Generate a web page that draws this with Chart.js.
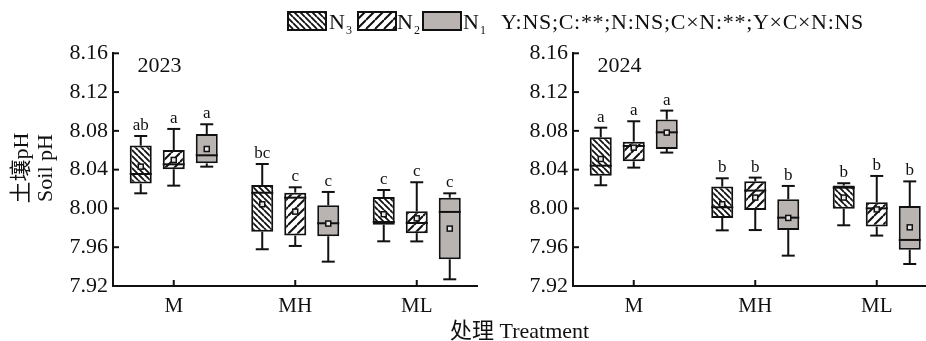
<!DOCTYPE html>
<html>
<head>
<meta charset="utf-8">
<script src="https://cdn.jsdelivr.net/npm/chart.js@4.4.1/dist/chart.umd.min.js"></script>
<style>
  html, body { margin: 0; padding: 0; background: #fff; }
  #wrap { position: relative; width: 926px; height: 341px; overflow: hidden;
          font-family: "Liberation Serif", "Times New Roman", "Noto Sans CJK SC", serif; color: #111; }
  .cv { position: absolute; top: 0; }
  .txt { position: absolute; white-space: nowrap; font-size: 22px; line-height: 22px; }
  .txt sub { font-size: 12px; vertical-align: baseline; position: relative; top: 5px; margin-left: 1px; }
  .sw { position: absolute; top: 11px; }
</style>
</head>
<body>
<div id="wrap">
  <canvas id="c2023" class="cv" width="480" height="341" style="left:0px"></canvas>
  <canvas id="c2024" class="cv" width="480" height="341" style="left:460px"></canvas>
  <div id="legend"></div>
  <div class="txt" id="stats" style="left:501px; top:10.6px; letter-spacing:0.7px;"></div>
  <div class="txt" id="xtitle" style="left:450px; top:319.6px;"></div>
</div>
<script>
// ---- categories, series, ticks ----
const categories = ['M', 'MH', 'ML'];
const seriesNames = ['N', 'N', 'N'];
const seriesSubs = ['3', '2', '1'];
const yearLabels = ['2023', '2024'];
const yTickValues = [7.92, 7.96, 8.00, 8.04, 8.08, 8.12, 8.16];
const yTickLabels = ['7.92', '7.96', '8.00', '8.04', '8.08', '8.12', '8.16'];
const yTitleLines = ['土壤pH', 'Soil pH'];
const xTitle = '处理 Treatment';
const statsText = 'Y:NS;C:**;N:NS;C×N:**;Y×C×N:NS';

// ---- five-number summaries per category: [lower whisker, Q1, median, Q3, upper whisker] ----
const box2023N3 = [[8.0156, 8.0256, 8.0355, 8.0648, 8.0747],
                   [7.9579, 7.9760, 8.0162, 8.0242, 8.0458],
                   [7.9661, 7.9833, 7.9860, 8.0118, 8.0190]];
const box2023N2 = [[8.0235, 8.0404, 8.0455, 8.0603, 8.0820],
                   [7.9613, 7.9720, 8.0111, 8.0163, 8.0218],
                   [7.9660, 7.9745, 7.9850, 7.9970, 8.0270]];
const box2023N1 = [[8.0431, 8.0465, 8.0548, 8.0768, 8.0868],
                   [7.9451, 7.9713, 7.9847, 8.0032, 8.0170],
                   [7.9269, 7.9475, 7.9964, 8.0111, 8.0156]];
const mean2023N3 = [8.0431, 8.0043, 7.9940];
const mean2023N2 = [8.0500, 7.9967, 7.9898];
const mean2023N1 = [8.0613, 7.9844, 7.9792];
const letters2023N3 = ['ab', 'bc', 'c'];
const letters2023N2 = ['a', 'c', 'c'];
const letters2023N1 = ['a', 'c', 'c'];

const box2024N3 = [[8.0239, 8.0338, 8.0441, 8.0734, 8.0833],
                   [7.9774, 7.9902, 8.0012, 8.0225, 8.0311],
                   [7.9826, 7.9998, 8.0214, 8.0236, 8.0260]];
const box2024N2 = [[8.0421, 8.0486, 8.0644, 8.0689, 8.0899],
                   [7.9777, 7.9984, 8.0184, 8.0280, 8.0318],
                   [7.9720, 7.9813, 8.0001, 8.0063, 8.0335]];
const box2024N1 = [[8.0576, 8.0613, 8.0785, 8.0916, 8.1009],
                   [7.9513, 7.9777, 7.9905, 8.0094, 8.0232],
                   [7.9427, 7.9575, 7.9675, 8.0025, 8.0279]];
const mean2024N3 = [8.0510, 8.0043, 8.0112];
const mean2024N2 = [8.0627, 8.0112, 7.9990];
const mean2024N1 = [8.0782, 7.9902, 7.9805];
const letters2024N3 = ['a', 'b', 'b'];
const letters2024N2 = ['a', 'b', 'b'];
const letters2024N1 = ['a', 'b', 'b'];

// ---- fills: two hatchings and a grey ----
const INK = '#111';
function hatch(step, dir, lw) {
  const c = document.createElement('canvas');
  c.width = step; c.height = step;
  const g = c.getContext('2d');
  g.fillStyle = '#fff'; g.fillRect(0, 0, step, step);
  g.strokeStyle = INK; g.lineWidth = lw;
  g.beginPath();
  for (let k = -1; k <= 2; k++) {
    if (dir === 'back') { g.moveTo(0, k * step); g.lineTo(step, k * step + step); }
    else { g.moveTo(0, k * step); g.lineTo(step, k * step - step); }
  }
  g.stroke();
  return c;
}
const tileN3 = hatch(6, 'back', 1.8);
const tileN2 = hatch(9, 'fwd', 2);
const greyN1 = '#b9b3b1';
function fillFor(ctx, i) {
  if (i === 0) return ctx.createPattern(tileN3, 'repeat');
  if (i === 1) return ctx.createPattern(tileN2, 'repeat');
  return greyN1;
}

Chart.defaults.font.family = '"Liberation Serif", "Times New Roman", "Noto Sans CJK SC", serif';
Chart.defaults.color = INK;

function seg(ctx, x1, y1, x2, y2) { ctx.beginPath(); ctx.moveTo(x1, y1); ctx.lineTo(x2, y2); ctx.stroke(); }

// whiskers, medians, means, letters, inward ticks and annotations
const boxExtras = {
  id: 'boxExtras',
  afterDatasetsDraw(chart) {
    const ctx = chart.ctx, ys = chart.scales.y;
    ctx.save();
    ctx.strokeStyle = INK; ctx.lineWidth = 2; ctx.lineCap = 'butt';
    chart.data.datasets.forEach((ds, di) => {
      chart.getDatasetMeta(di).data.forEach((bar, i) => {
        const [lo, q1, med, q3, hi] = ds.stats[i];
        const cx = bar.x, w = bar.width;
        const pLo = ys.getPixelForValue(lo), pQ1 = ys.getPixelForValue(q1);
        const pMed = ys.getPixelForValue(med), pQ3 = ys.getPixelForValue(q3);
        const pHi = ys.getPixelForValue(hi), pMean = ys.getPixelForValue(ds.means[i]);
        ctx.lineWidth = 2;
        seg(ctx, cx, pQ3, cx, pHi);
        seg(ctx, cx, pQ1, cx, pLo);
        seg(ctx, cx - 6.5, pHi, cx + 6.5, pHi);
        seg(ctx, cx - 6.5, pLo, cx + 6.5, pLo);
        seg(ctx, cx - w / 2, pMed, cx + w / 2, pMed);
        ctx.fillStyle = '#e6e6e6';
        ctx.fillRect(cx - 2.5, pMean - 2.5, 5, 5);
        ctx.lineWidth = 1.5;
        ctx.strokeRect(cx - 2.5, pMean - 2.5, 5, 5);
        ctx.fillStyle = INK;
        ctx.font = '17px "Liberation Serif", serif';
        ctx.textAlign = 'center'; ctx.textBaseline = 'alphabetic';
        ctx.fillText(ds.letters[i], cx, pHi - 6);
      });
    });
    ctx.restore();
  },
  afterDraw(chart, args, opts) {
    const ctx = chart.ctx, ys = chart.scales.y, xs = chart.scales.x, a = chart.chartArea;
    ctx.save();
    ctx.strokeStyle = INK; ctx.lineWidth = 2;
    ys.ticks.forEach(t => { const p = ys.getPixelForValue(t.value); seg(ctx, a.left, p, a.left + 6, p); });
    categories.forEach((c, i) => { const p = xs.getPixelForValue(i); seg(ctx, p, a.bottom, p, a.bottom - 6); });
    ctx.fillStyle = INK;
    ctx.font = '22px "Liberation Serif", serif';
    ctx.textAlign = 'left'; ctx.textBaseline = 'alphabetic';
    ctx.fillText(opts.year, a.left + 24.5, 72);
    if (opts.yTitle) {
      ctx.textAlign = 'center';
      ctx.font = '22px "Liberation Serif", "Noto Sans CJK SC", serif';
      [[28, yTitleLines[0]], [52, yTitleLines[1]]].forEach(([bx, s]) => {
        ctx.save(); ctx.translate(bx, 168); ctx.rotate(-Math.PI / 2);
        ctx.fillText(s, 0, 0); ctx.restore();
      });
    }
    ctx.restore();
  }
};

function makeChart(id, year, boxes, means, letters, yTitle) {
  const el = document.getElementById(id);
  const ctx = el.getContext('2d');
  return new Chart(el, {
    type: 'bar',
    data: {
      labels: categories,
      datasets: boxes.map((b, i) => ({
        label: seriesNames[i] + seriesSubs[i],
        data: b.map(r => [r[1], r[3]]),
        stats: b, means: means[i], letters: letters[i],
        backgroundColor: fillFor(ctx, i),
        borderColor: INK, borderWidth: 2, borderSkipped: false,
        categoryPercentage: 0.815, barPercentage: 0.667
      }))
    },
    options: {
      responsive: false, animation: false, devicePixelRatio: 1,
      layout: { padding: { top: 53.3, right: 2.5, bottom: 15, left: 0 } },
      plugins: { legend: { display: false }, tooltip: { enabled: false }, boxExtras: { year, yTitle } },
      scales: {
        x: {
          grid: { display: false, drawTicks: false },
          border: { display: true, color: INK, width: 2 },
          ticks: { font: { size: 21 }, color: INK, padding: 8 },
          afterFit: s => { s.height = 40; }
        },
        y: {
          min: 7.92, max: 8.16,
          grid: { display: false, drawTicks: false },
          border: { display: true, color: INK, width: 2 },
          afterBuildTicks: s => { s.ticks = yTickValues.map(v => ({ value: v })); },
          ticks: { font: { size: 22 }, color: INK, padding: 5, callback: (v, i) => yTickLabels[i] },
          afterFit: s => { s.width = 113; }
        }
      }
    },
    plugins: [boxExtras]
  });
}

makeChart('c2023', yearLabels[0], [box2023N3, box2023N2, box2023N1],
          [mean2023N3, mean2023N2, mean2023N1], [letters2023N3, letters2023N2, letters2023N1], true);
makeChart('c2024', yearLabels[1], [box2024N3, box2024N2, box2024N1],
          [mean2024N3, mean2024N2, mean2024N1], [letters2024N3, letters2024N2, letters2024N1], false);

// ---- legend with swatches, plus the shared texts ----
const legend = document.getElementById('legend');
const swLeft = [287, 357, 422];
const txLeft = [329, 397, 463];
seriesNames.forEach((n, i) => {
  const sw = document.createElement('canvas');
  sw.className = 'sw'; sw.width = 40; sw.height = 20; sw.style.left = swLeft[i] + 'px';
  const g = sw.getContext('2d');
  g.fillStyle = fillFor(g, i); g.fillRect(0, 0, 40, 20);
  g.strokeStyle = INK; g.lineWidth = 2; g.strokeRect(1, 1, 38, 18);
  legend.appendChild(sw);
  const t = document.createElement('div');
  t.className = 'txt'; t.style.left = txLeft[i] + 'px'; t.style.top = '10.6px';
  t.innerHTML = n + '<sub>' + seriesSubs[i] + '</sub>';
  legend.appendChild(t);
});
document.getElementById('stats').textContent = statsText;
document.getElementById('xtitle').textContent = xTitle;
</script>
</body>
</html>
